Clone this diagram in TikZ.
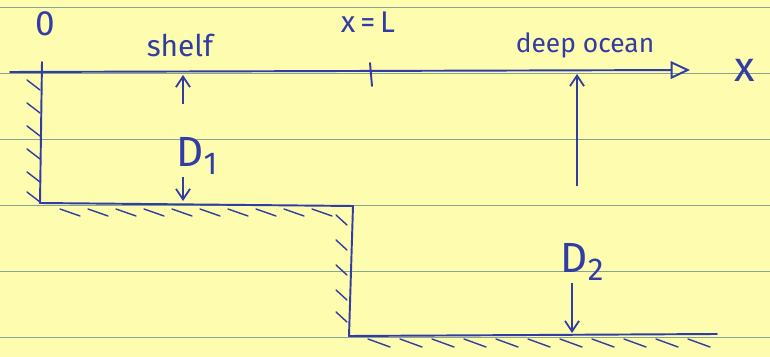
\documentclass[tikz,border=0pt]{standalone}
\usepackage{fontspec}
\setmainfont{Fira Sans}
\usetikzlibrary{positioning, arrows.meta}
\definecolor{inkBlue}{RGB}{50, 60, 165}
\definecolor{padYellow}{RGB}{254, 252, 175}
\definecolor{ruleTeal}{RGB}{135, 165, 150}
\tikzset{
  pen/.style={draw=inkBlue, line width=1.1pt, line cap=round, line join=round},
  hatchmark/.style={draw=inkBlue, line width=0.8pt, line cap=round},
  handtext/.style={text=inkBlue, inner sep=1pt, font=\fontsize{17}{20}\selectfont},
  bigtext/.style={text=inkBlue, inner sep=1pt, font=\fontsize{24}{28}\selectfont},
  dimarrow/.style={draw=inkBlue, line width=1pt, -{Straight Barb[length=6pt, width=8pt]}},
}

\begin{document}
\begin{tikzpicture}[x=0.02cm, y=-0.02cm]
    % Paper
    \fill[padYellow] (0,0) rectangle (770,357);
    \useasboundingbox (0,0) rectangle (770,357);
    \foreach \y in {7,73,139,205,271,337}
      \draw[ruleTeal, line width=0.5pt] (0,\y) -- (770,\y);

    % Corners of the profile
    \coordinate (seaStart) at (10,72);
    \coordinate (axisEnd) at (690,70);
    \coordinate (coastTop) at (42,62);
    \coordinate (shelfIn) at (40,203);
    \coordinate (shelfOut) at (353,206);
    \coordinate (stepFoot) at (349,336);
    \coordinate (deepEnd) at (717,334);
    \coordinate (tickTop) at (370,63);
    \coordinate (tickBot) at (372,86);

    % Surface, x-axis and bottom
    \draw[pen, -{Triangle[open, length=11pt, width=10pt]}] (seaStart) -- (axisEnd);
    \draw[pen] (coastTop) -- (shelfIn) -- (shelfOut) -- (stepFoot) -- (deepEnd);
    \draw[pen] (tickTop) -- (tickBot);

    % Hatching
    \foreach \y in {80,103,126,149,172,192}
      \draw[hatchmark] (27,\y) -- (40,\y+10);
    \foreach \x in {60,88,116,144,172,200,228,256,284,312}
      \draw[hatchmark] (\x,209) -- (\x+20,216);
    \foreach \y in {215,240,265,290,312}
      \draw[hatchmark] (336,\y) -- (347,\y+10);
    \foreach \x in {368,400,432,464,496,528,560,592,624,656,688}
      \draw[hatchmark] (\x,339) -- (\x+22,347);

    % Labels
    \node[handtext, font=\fontsize{20}{24}\selectfont] (origin) at (45,24) {0};
    \node[handtext] (shelf) at (180,45) {shelf};
    \node[handtext] (xL) at (368,22) {x\,=\,L};
    \node[handtext, font=\fontsize{15}{18}\selectfont] (deep) at (585,45) {deep ocean};
    \node[bigtext] (xAxis) at (745,70) {x};
    \node[bigtext] (D1) at (197,156) {D\raisebox{-0.35ex}{\fontsize{18}{20}\selectfont 1}};
    \node[bigtext] (D2) at (582,262) {D\raisebox{-0.35ex}{\fontsize{18}{20}\selectfont 2}};

    % Depth arrows
    \coordinate (d1Top) at (183,75);
    \coordinate (d1Bot) at (183,201);
    \coordinate (d2Top) at (577,74);
    \coordinate (d2Bot) at (572,333);
    \draw[dimarrow, shorten <=0.62cm] (D1.north -| d1Top) -- (d1Top);
    \draw[dimarrow] (D1.south -| d1Bot) -- (d1Bot);
    \draw[dimarrow, shorten <=1.1cm] (D2.north -| d2Top) -- (d2Top);
    \draw[dimarrow] (D2.south -| d2Bot) -- (d2Bot);
\end{tikzpicture}
\end{document}
